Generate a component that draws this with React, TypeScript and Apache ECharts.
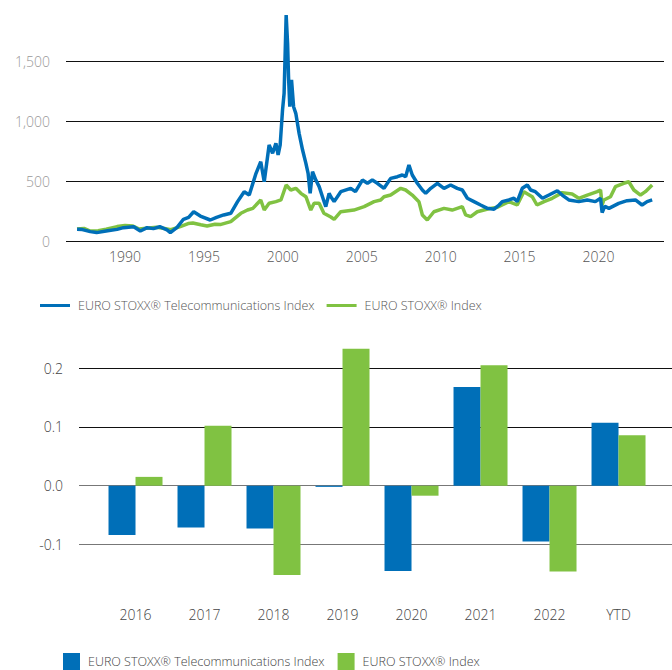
import React, { useEffect, useRef } from "react";
import * as echarts from "echarts";

const TELE_NAME = "EURO STOXX® Telecommunications Index";
const STOXX_NAME = "EURO STOXX® Index";
const BLUE = "#006fb8";
const GREEN = "#80c242";

// Index levels: [decimal year, level]
const teleLine: [number, number][] = [
  [1986.96, 97], [1987.3, 95], [1987.8, 78], [1988.2, 70], [1988.9, 86], [1989.5, 97],
  [1989.9, 111], [1990.55, 119], [1990.97, 83], [1991.4, 111], [1991.8, 103], [1992.2, 119],
  [1992.66, 92], [1992.87, 70], [1993.3, 114], [1993.7, 181], [1994.03, 197], [1994.35, 244],
  [1994.77, 208], [1995.4, 175], [1995.8, 197], [1996.25, 217], [1996.7, 231], [1997.13, 328],
  [1997.55, 411], [1997.87, 383], [1998.3, 564], [1998.6, 661], [1998.82, 494], [1999.13, 800],
  [1999.35, 731], [1999.56, 814], [1999.7, 717], [1999.83, 800], [1999.98, 1092], [2000.08, 1231],
  [2000.21, 1883], [2000.3, 1647], [2000.36, 1369], [2000.44, 1119], [2000.55, 1342], [2000.68, 1119],
  [2000.82, 1064], [2001.03, 897], [2001.25, 758], [2001.46, 647], [2001.6, 564], [2001.73, 397],
  [2001.88, 578], [2002.09, 508], [2002.3, 453], [2002.51, 369], [2002.72, 286], [2002.93, 397],
  [2003.04, 369], [2003.25, 328], [2003.67, 411], [2004.3, 439], [2004.6, 411], [2005.04, 508],
  [2005.36, 481], [2005.67, 508], [2005.99, 481], [2006.41, 439], [2006.83, 522], [2007.26, 536],
  [2007.57, 550], [2007.78, 536], [2007.99, 633], [2008.2, 550], [2008.52, 481], [2008.84, 425],
  [2009.05, 397], [2009.37, 439], [2009.79, 481], [2010.21, 439], [2010.63, 467], [2011.05, 439],
  [2011.37, 425], [2011.69, 356], [2012.11, 328], [2012.53, 300], [2012.96, 272], [2013.38, 265],
  [2013.7, 300], [2013.9, 328], [2014.32, 342], [2014.64, 356], [2014.85, 328], [2015.17, 439],
  [2015.49, 467], [2015.7, 425], [2016.0, 411], [2016.45, 356], [2016.86, 383], [2017.39, 419],
  [2017.7, 383], [2018.12, 342], [2018.75, 328], [2019.29, 342], [2019.8, 328], [2020.13, 356],
  [2020.23, 236], [2020.4, 290], [2020.66, 272], [2021.28, 314], [2021.81, 336], [2022.34, 342],
  [2022.76, 300], [2023.08, 328], [2023.4, 342],
];

const stoxxLine: [number, number][] = [
  [1986.96, 100], [1987.4, 105], [1987.8, 83], [1988.3, 85], [1988.8, 98], [1989.5, 120],
  [1990.0, 130], [1990.5, 125], [1990.9, 100], [1991.5, 108], [1992.0, 115], [1992.5, 105],
  [1992.9, 95], [1993.5, 120], [1994.0, 145], [1994.3, 150], [1994.8, 135], [1995.2, 125],
  [1995.7, 140], [1996.08, 138], [1996.7, 161], [1997.34, 231], [1997.76, 258], [1998.1, 272],
  [1998.6, 342], [1998.82, 258], [1999.13, 314], [1999.56, 328], [1999.88, 342], [2000.21, 467],
  [2000.5, 425], [2000.82, 439], [2001.14, 397], [2001.46, 369], [2001.77, 258], [2001.98, 314],
  [2002.3, 314], [2002.6, 231], [2003.04, 200], [2003.25, 180], [2003.67, 244], [2004.5, 258],
  [2005.15, 286], [2005.78, 328], [2006.2, 342], [2006.41, 369], [2006.83, 383], [2007.47, 439],
  [2007.78, 425], [2008.2, 383], [2008.62, 328], [2008.84, 217], [2009.15, 175], [2009.57, 244],
  [2010.21, 272], [2010.73, 258], [2011.37, 286], [2011.58, 217], [2011.9, 203], [2012.32, 244],
  [2012.74, 258], [2013.16, 272], [2013.6, 281], [2014.32, 328], [2014.85, 300], [2015.27, 411],
  [2015.8, 369], [2016.1, 300], [2016.55, 328], [2017.07, 356], [2017.7, 403], [2018.33, 392],
  [2018.75, 356], [2019.29, 383], [2019.92, 411], [2020.13, 425], [2020.23, 300], [2020.34, 342],
  [2020.76, 369], [2021.07, 453], [2021.6, 481], [2021.92, 494], [2022.24, 425], [2022.66, 383],
  [2022.97, 411], [2023.4, 467],
];

const yearTicks = [1990, 1995, 2000, 2005, 2010, 2015, 2020];

const barCategories = ["2016", "2017", "2018", "2019", "2020", "2021", "2022", "YTD"];
const teleReturns = [-0.084, -0.071, -0.073, -0.002, -0.145, 0.168, -0.095, 0.107];
const stoxxReturns = [0.015, 0.102, -0.152, 0.233, -0.017, 0.205, -0.146, 0.086];

const FONT = "'Open Sans', 'Noto Sans', sans-serif";

export default function App() {
  const ref = useRef<HTMLDivElement>(null);

  useEffect(() => {
    if (!ref.current) return;
    const chart = echarts.init(ref.current, undefined, { renderer: "svg" });
    const barIdx = barCategories.map((_, i) => i);

    chart.setOption({
      animation: false,
      textStyle: { fontFamily: FONT },
      grid: [
        { left: 66, right: 8, top: 1, height: 240, containLabel: false },
        { left: 79, right: 0, top: 338.7, height: 264.6, containLabel: false },
      ],
      legend: [
        {
          left: 40,
          top: 299,
          icon: "rect",
          itemWidth: 30,
          itemHeight: 3,
          itemGap: 12,
          padding: 0,
          selectedMode: false,
          data: [
            { name: TELE_NAME, itemStyle: { color: BLUE } },
            { name: STOXX_NAME, itemStyle: { color: GREEN } },
          ],
          textStyle: { fontFamily: FONT, fontSize: 12.5, color: "#555", fontWeight: 300, padding: [0, 0, 0, 3] },
        },
        {
          left: 63,
          top: 653,
          icon: "rect",
          itemWidth: 17,
          itemHeight: 17,
          itemGap: 13,
          padding: 0,
          selectedMode: false,
          data: [
            { name: TELE_NAME, itemStyle: { color: BLUE } },
            { name: STOXX_NAME, itemStyle: { color: GREEN } },
          ],
          textStyle: { fontFamily: FONT, fontSize: 12.5, color: "#444", fontWeight: 300, padding: [0, 0, 0, 3] },
        },
      ],
      xAxis: [
        {
          type: "value",
          gridIndex: 0,
          min: 1986.26,
          max: 2024.15,
          axisLine: { show: false },
          axisTick: { show: false },
          splitLine: { show: false },
          axisLabel: {
            customValues: yearTicks,
            formatter: (v: number) => String(Math.round(v)),
            color: "#555",
            fontSize: 14,
            fontFamily: FONT,
            fontWeight: 300,
            margin: 8,
          },
        },
        {
          type: "value",
          gridIndex: 1,
          min: -0.819,
          max: 7.775,
          axisLine: { show: false },
          axisTick: { show: false },
          splitLine: { show: false },
          axisLabel: {
            customValues: barIdx,
            formatter: (v: number) => barCategories[Math.round(v)] ?? "",
            color: "#444",
            fontSize: 14,
            fontFamily: FONT,
            fontWeight: 300,
            margin: 4,
          },
        },
      ],
      yAxis: [
        {
          type: "value",
          gridIndex: 0,
          min: 0,
          max: 2000,
          interval: 500,
          axisLine: { show: false },
          axisTick: { show: false },
          axisLabel: {
            showMaxLabel: false,
            formatter: (v: number) => v.toLocaleString("en-US"),
            color: "#999",
            fontSize: 14,
            fontFamily: FONT,
            fontWeight: 300,
            margin: 16,
          },
          splitLine: {
            show: true,
            showMaxLine: false,
            lineStyle: { color: "#111", width: 1 },
          },
        },
        {
          type: "value",
          gridIndex: 1,
          min: -0.2,
          max: 0.25,
          interval: 0.1,
          axisLine: { show: false },
          axisTick: { show: false },
          axisLabel: {
            showMinLabel: false,
            showMaxLabel: false,
            formatter: (v: number) => (Math.abs(v) < 1e-9 ? "0.0" : v.toFixed(1)),
            color: "#444",
            fontSize: 14,
            fontFamily: FONT,
            fontWeight: 300,
            margin: 16,
          },
          splitLine: {
            show: true,
            showMinLine: false,
            showMaxLine: false,
            lineStyle: { color: ["#777", "#777", "#111", "#111"], width: 1 },
          },
        },
      ],
      series: [
        {
          name: STOXX_NAME,
          type: "line",
          xAxisIndex: 0,
          yAxisIndex: 0,
          data: stoxxLine,
          showSymbol: false,
          symbol: "none",
          color: GREEN,
          lineStyle: { color: GREEN, width: 3.5 },
        },
        {
          name: TELE_NAME,
          type: "line",
          xAxisIndex: 0,
          yAxisIndex: 0,
          data: teleLine,
          showSymbol: false,
          symbol: "none",
          color: BLUE,
          lineStyle: { color: BLUE, width: 3.5 },
        },
        {
          name: TELE_NAME,
          type: "bar",
          xAxisIndex: 1,
          yAxisIndex: 1,
          data: teleReturns.map((v, i) => [i, v]),
          barWidth: 27,
          barGap: "0%",
          color: BLUE,
          itemStyle: { color: BLUE },
        },
        {
          name: STOXX_NAME,
          type: "bar",
          xAxisIndex: 1,
          yAxisIndex: 1,
          data: stoxxReturns.map((v, i) => [i, v]),
          barWidth: 27,
          barGap: "0%",
          color: GREEN,
          itemStyle: { color: GREEN },
        },
      ],
    });

    return () => chart.dispose();
  }, []);

  return (
    <div
      ref={ref}
      style={{ position: "absolute", left: 0, top: 0, width: 672, height: 670, background: "#fff" }}
    />
  );
}
